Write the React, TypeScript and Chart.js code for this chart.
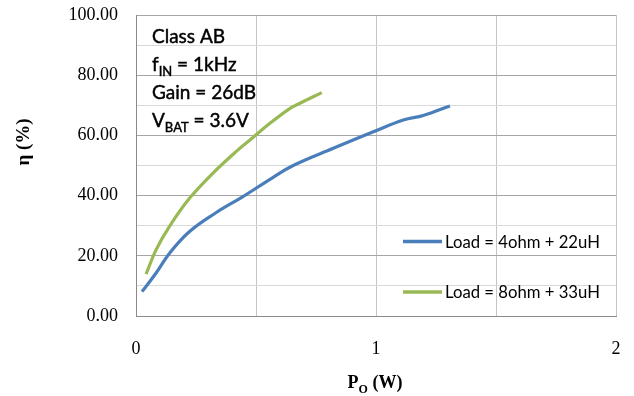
import React, { useEffect, useRef } from 'react';
import { Chart, registerables } from 'chart.js';

Chart.register(...registerables);

// Data
const blueX = [0.025, 0.083, 0.139, 0.222, 0.333, 0.444, 0.57, 0.655, 0.822, 0.989, 1.114, 1.197, 1.308];
const blueY = [8.1, 14.2, 20.8, 28.0, 34.3, 39.6, 46.0, 50.0, 55.7, 61.2, 65.1, 66.6, 69.8];
const greenX = [0.042, 0.083, 0.139, 0.222, 0.32, 0.424, 0.475, 0.558, 0.642, 0.683, 0.774];
const greenY = [13.9, 21.9, 29.7, 39.0, 47.4, 55.1, 58.5, 64.0, 69.0, 70.7, 74.2];
const seriesLabels = ['Load = 4ohm + 22uH', 'Load = 8ohm + 33uH'];
const seriesColors = ['#4a7ebb', '#98b954'];
const xMin = 0, xMax = 2, xStep = 0.5;
const yMin = 0, yMax = 100, yStep = 10, yLabelStep = 20;

const serif = "'Liberation Serif', 'Times New Roman', serif";
const sans = "Lato, 'Open Sans', sans-serif";

function drawWithSub(ctx: CanvasRenderingContext2D, x: number, y: number, parts: [string, boolean][], size: number, weight = 'normal', family = sans, stroke = 0) {
  let cx = x;
  for (const [t, sub] of parts) {
    const yy = sub ? y + size * 0.28 : y;
    ctx.font = `${weight} ${sub ? Math.round(size * 0.68) : size}px ${family}`;
    ctx.fillText(t, cx, yy);
    if (stroke > 0) {
      ctx.lineWidth = stroke;
      ctx.strokeStyle = ctx.fillStyle as string;
      ctx.strokeText(t, cx, yy);
    }
    cx += ctx.measureText(t).width;
  }
  return cx - x;
}

const overlay = {
  id: 'overlay',
  afterDraw(chart: any) {
    const ctx: CanvasRenderingContext2D = chart.ctx;
    ctx.save();
    ctx.fillStyle = '#000';
    ctx.textAlign = 'left';
    ctx.textBaseline = 'alphabetic';
    // annotation block
    const ax = 152;
    const fs = 19;
    const st = 0.45;
    drawWithSub(ctx, ax, 43, [['Class AB', false]], fs, 'normal', sans, st);
    drawWithSub(ctx, ax, 71, [['f', false], ['IN', true], [' = 1kHz', false]], fs, 'normal', sans, st);
    drawWithSub(ctx, ax, 99, [['Gain = 26dB', false]], fs, 'normal', sans, st);
    drawWithSub(ctx, ax, 127, [['V', false], ['BAT', true], [' = 3.6V', false]], fs, 'normal', sans, st);

    // legend
    const legY = [241.5, 292];
    ctx.lineCap = 'butt';
    for (let i = 0; i < seriesLabels.length; i++) {
      ctx.strokeStyle = seriesColors[i];
      ctx.lineWidth = 3.5;
      ctx.beginPath();
      ctx.moveTo(403, legY[i]);
      ctx.lineTo(442, legY[i]);
      ctx.stroke();
      ctx.fillStyle = '#000';
      ctx.font = `normal 16.7px ${sans}`;
      ctx.textBaseline = 'middle';
      ctx.fillText(seriesLabels[i], 445, legY[i] + 1);
    }

    // x title
    ctx.textBaseline = 'alphabetic';
    ctx.font = `bold 18px ${serif}`;
    const wP = ctx.measureText('P').width;
    ctx.font = `bold 12px ${serif}`;
    const wO = ctx.measureText('O').width;
    ctx.font = `bold 18px ${serif}`;
    const wW = ctx.measureText(' (W)').width;
    const total = wP + wO + wW;
    drawWithSub(ctx, 375 - total / 2, 388, [['P', false], ['O', true], [' (W)', false]], 18, 'bold', serif);

    // y title
    ctx.translate(24, 142);
    ctx.rotate(-Math.PI / 2);
    ctx.textAlign = 'center';
    ctx.textBaseline = 'middle';
    ctx.font = `bold 19px ${serif}`;
    ctx.fillText('η (%)', 0, 0);
    ctx.restore();
  },
};

export default function App() {
  const ref = useRef<HTMLCanvasElement>(null);
  useEffect(() => {
    if (!ref.current) return;
    const chart = new Chart(ref.current, {
      type: 'line',
      data: {
        datasets: [
          {
            label: seriesLabels[0],
            data: blueX.map((x, i) => ({ x, y: blueY[i] })),
            borderColor: seriesColors[0],
            borderWidth: 3.2,
            pointRadius: 0,
            tension: 0.4,
            fill: false,
          },
          {
            label: seriesLabels[1],
            data: greenX.map((x, i) => ({ x, y: greenY[i] })),
            borderColor: seriesColors[1],
            borderWidth: 3.2,
            pointRadius: 0,
            tension: 0.4,
            fill: false,
          },
        ],
      },
      options: {
        responsive: false,
        animation: false,
        layout: { padding: { top: 15, right: 18, left: 0, bottom: 0 } },
        plugins: { legend: { display: false }, tooltip: { enabled: false } },
        scales: {
          x: {
            type: 'linear',
            min: xMin,
            max: xMax,
            ticks: {
              stepSize: xStep,
              padding: 22,
              color: '#000',
              font: { family: serif, size: 18 },
              maxRotation: 0,
              callback: (v: any) => (Number.isInteger(v) ? String(v) : ''),
            },
            grid: { color: '#c4c4c4', lineWidth: 1, drawTicks: false },
            border: { color: '#8a8a8a', width: 1 },
            afterFit: (s: any) => {
              s.height = 80;
              s.paddingLeft = 0;
              s.paddingRight = 0;
              s.paddingTop = 0;
              s.paddingBottom = 0;
            },
          },
          y: {
            type: 'linear',
            min: yMin,
            max: yMax,
            ticks: {
              stepSize: yStep,
              padding: 18,
              color: '#000',
              font: { family: serif, size: 18 },
              callback: (v: any) => (v % yLabelStep === 0 ? Number(v).toFixed(2) : ''),
            },
            grid: {
              color: (c: any) => (c.tick && c.tick.value % yLabelStep === 0 ? '#a6a6a6' : '#d9d9d9'),
              lineWidth: 1,
              drawTicks: false,
            },
            border: { color: '#8a8a8a', width: 1 },
            afterFit: (s: any) => {
              s.width = 136;
              s.paddingTop = 0;
              s.paddingBottom = 0;
              s.paddingLeft = 0;
              s.paddingRight = 0;
            },
          },
        },
      },
      plugins: [overlay],
    } as any);
    return () => chart.destroy();
  }, []);
  return (
    <div style={{ position: 'fixed', left: 0, top: 0, width: 634, height: 396, background: '#fff' }}>
      <canvas ref={ref} width={634} height={396} style={{ display: 'block' }} />
    </div>
  );
}
